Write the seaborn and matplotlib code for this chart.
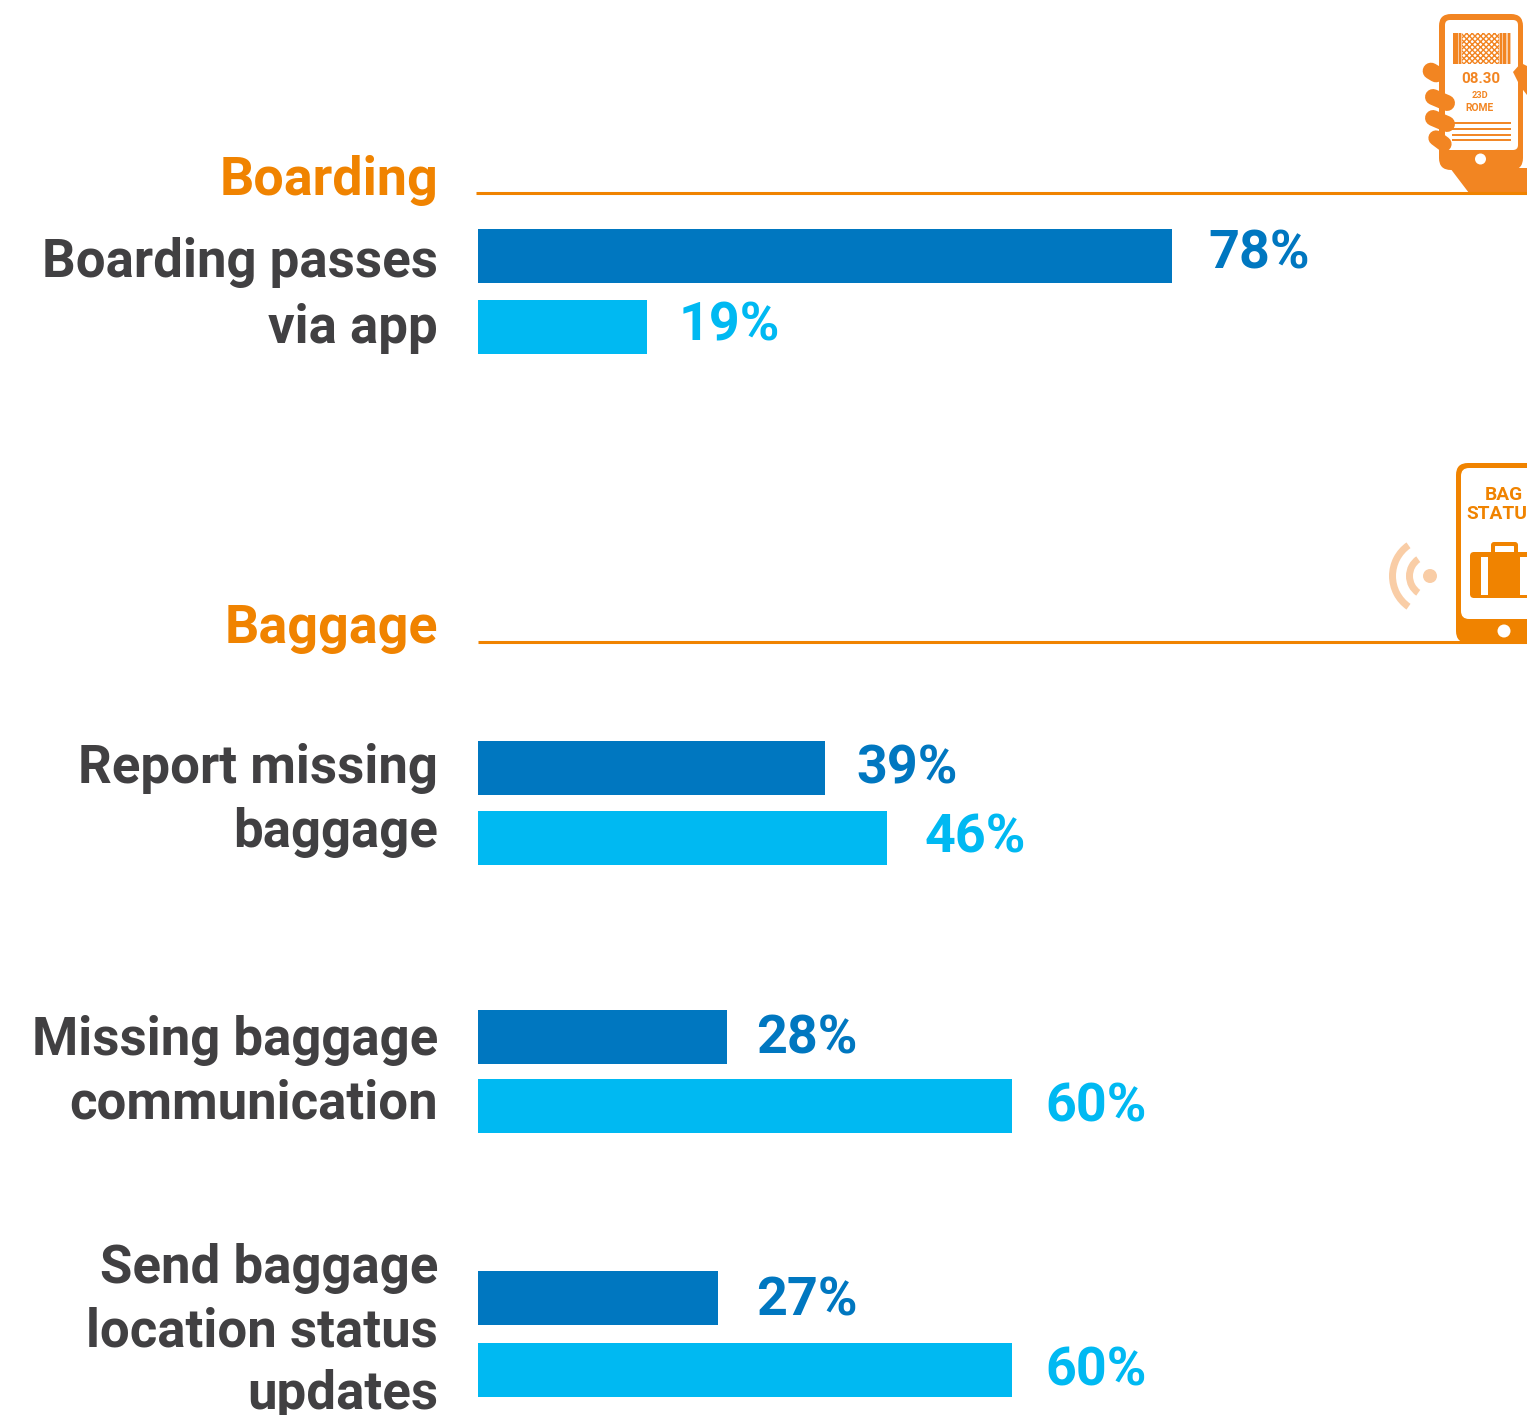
import matplotlib
matplotlib.use("Agg")
import matplotlib.pyplot as plt
import seaborn as sns
import pandas as pd
from matplotlib.patches import FancyBboxPatch, Rectangle, Circle, Wedge, Polygon

# ---- data ----
labels = ["Boarding passes\nvia app", "Report missing\nbaggage",
          "Missing baggage\ncommunication", "Send baggage\nlocation status\nupdates"]
dark_values = [78, 39, 28, 27]
light_values = [19, 46, 60, 60]
sections = ["Boarding", "Baggage"]

# ---- layout (pixels) ----
W, H = 1527, 1415
X0 = 478
PX_PER_PCT = 8.9
dark_y = [256, 768, 1037, 1298]
light_y = [327, 838, 1106, 1370]
dark_off = [36, 31, 29, 38]
light_off = [31, 37, 33, 33]
dark_dy = [2, -1, -2, -3]
light_dy = [1, 0, -1, -1]
label_y = [[262, 328], [769, 833], [1040, 1104], [1268, 1332, 1394]]
sec_y = [181, 628]
rule_y = [193, 642]
rule_x0 = [476, 478]

BLUE, CYAN, ORANGE, ORANGE2, GREY = "#0077C0", "#00B9F2", "#F08300", "#F28522", "#414042"
FONT = "Roboto"
FS = 38.8
FS_LABEL = 38.0
WT = "bold"

sns.set_theme(style="white")
plt.rcParams["font.family"] = [FONT, "DejaVu Sans"]

fig = plt.figure(figsize=(W / 100, H / 100), dpi=100, facecolor="white")
ax = fig.add_axes([X0 / W, 0, 1 - X0 / W, 1])

df = pd.DataFrame({
    "value": dark_values + light_values,
    "pos": dark_y + light_y,
    "series": ["dark"] * 4 + ["light"] * 4,
})
sns.barplot(data=df, x="value", y="pos", hue="series", orient="h", native_scale=True,
            palette={"dark": BLUE, "light": CYAN}, dodge=False, width=54 / 69,
            saturation=1, legend=False, ax=ax, linewidth=0, errorbar=None)
ax.set_xlim(0, (W - X0) / PX_PER_PCT)
ax.set_ylim(H, 0)
ax.axis("off")

for vals, ys, offs, dys, col in [(dark_values, dark_y, dark_off, dark_dy, BLUE),
                                 (light_values, light_y, light_off, light_dy, CYAN)]:
    for v, y, o, d in zip(vals, ys, offs, dys):
        ax.annotate(f"{v}%", (v, y), xytext=(o * 0.72, d * 0.72), textcoords="offset points",
                    color=col, fontsize=FS, fontweight=WT, va="center", ha="left")

# overlay in pixel coordinates
ov = fig.add_axes([0, 0, 1, 1], zorder=5)
ov.set_xlim(0, W)
ov.set_ylim(H, 0)
ov.axis("off")
ov.patch.set_alpha(0)

for lab, ys in zip(labels, label_y):
    for line, y in zip(lab.split("\n"), ys):
        ov.text(438, y, line, ha="right", va="center", color=GREY, fontsize=FS_LABEL, fontweight=WT)
for s, y, ry, rx in zip(sections, sec_y, rule_y, rule_x0):
    ov.text(438, y, s, ha="right", va="center", color=ORANGE, fontsize=FS, fontweight=WT)
    ov.plot([rx, W], [ry, ry], color=ORANGE, lw=2.2, solid_capstyle="butt", zorder=6)

def rbox(x0, y0, x1, y1, r, **kw):
    ov.add_patch(FancyBboxPatch((x0 + r, y0 + r), x1 - x0 - 2 * r, y1 - y0 - 2 * r,
                                boxstyle=f"round,pad={r}", linewidth=0, **kw))

# ---- boarding-pass phone icon ----
plt.rcParams["hatch.linewidth"] = 1.0
ov.add_patch(Polygon([(1450, 168), (1527, 168), (1527, 193), (1469, 193)], color=ORANGE2, lw=0))
rbox(1439, 14, 1523, 170, 12, color=ORANGE2)
rbox(1445, 20, 1518, 150, 5, color="white")
ov.add_patch(Circle((1480.5, 159), 5.5, color="white", lw=0))
ov.add_patch(Rectangle((1453, 33), 58, 31, color="#F9C9A0", lw=0))
for bx, bw in [(1453, 5), (1459, 2), (1500, 2), (1503, 3), (1508, 2)]:
    ov.add_patch(Rectangle((bx, 33), bw, 31, color=ORANGE2, lw=0))
ov.add_patch(Rectangle((1462, 33), 37, 31, facecolor="white", edgecolor=ORANGE2, hatch="xxxxxx", lw=0))
ov.text(1481, 79, "08.30", ha="center", va="center", color=ORANGE2, fontsize=10.8, fontweight="bold")
ov.text(1479.5, 96, "23D", ha="center", va="center", color=ORANGE2, fontsize=6.6, fontweight="bold")
ov.text(1479, 108, "ROME", ha="center", va="center", color=ORANGE2, fontsize=7.4, fontweight="bold")
for ly in [123, 128.5, 134.5, 140]:
    ov.plot([1452, 1511], [ly, ly], color=ORANGE2, lw=1.4, solid_capstyle="butt")
# fingers
for (xa, ya), (xb, yb), w in [((1431, 71), (1436, 74), 12),
                              ((1433, 97), (1447, 103), 11.5),
                              ((1433, 118), (1447, 124), 11.5),
                              ((1436, 138), (1444, 144), 11)]:
    ov.plot([xa, xb], [ya, yb], color=ORANGE2, lw=w, solid_capstyle="round")
ov.add_patch(Polygon([(1521, 63), (1527, 66), (1527, 95), (1520, 86), (1513, 72)], color=ORANGE2, lw=0))

# ---- bag status phone icon ----
rbox(1456, 463, 1560, 643, 12, color=ORANGE)
rbox(1461, 468, 1560, 619, 8, color="white")
ov.add_patch(Circle((1504, 631), 6.5, color="white", lw=0))
ov.text(1504, 495, "BAG", ha="center", va="center", color=ORANGE, fontsize=13.8, fontweight="bold")
ov.text(1497, 514, "STATU", ha="center", va="center", color=ORANGE, fontsize=13.8, fontweight="bold")
rbox(1491, 542, 1518, 556, 3, color=ORANGE)
rbox(1495, 546, 1514, 556, 0.5, color="white")
rbox(1470, 552, 1560, 598, 4, color=ORANGE)
ov.add_patch(Rectangle((1481, 557), 7, 38, color="white", lw=0))
ov.add_patch(Rectangle((1520, 557), 7, 38, color="white", lw=0))
PALE = "#F9CDA6"
ov.add_patch(Circle((1430, 576), 7, color=PALE, lw=0))
ov.add_patch(Wedge((1430, 576), 24, 125, 235, width=7, color=PALE, lw=0))
ov.add_patch(Wedge((1430, 576), 41, 125, 235, width=7, color=PALE, lw=0))

fig.savefig("out.png", dpi=100)
